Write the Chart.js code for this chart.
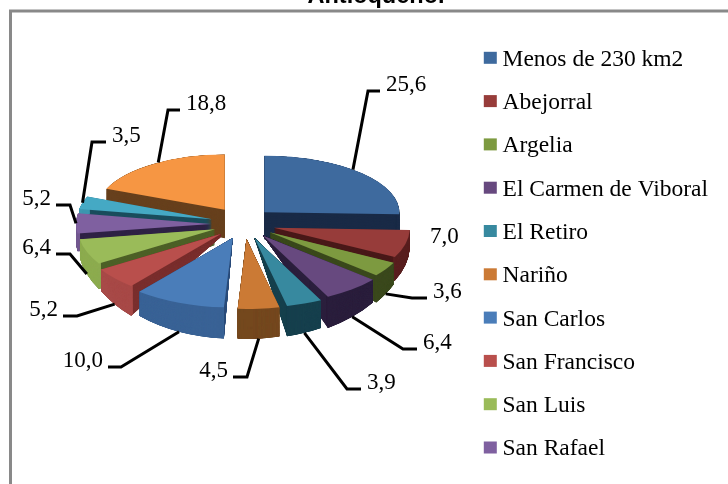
<!DOCTYPE html>
<html>
<head>
<meta charset="utf-8">
<script src="https://cdn.jsdelivr.net/npm/chart.js@4"></script>
<style>
  html, body { margin: 0; padding: 0; background: #fff; overflow: hidden; }
  #wrap { position: absolute; left: 0; top: -18px; width: 728px; height: 502px; }
</style>
</head>
<body>
<div id="wrap"><canvas id="pie"></canvas></div>
<script>
const chartTitle = 'Antioqueño.';
const categories = ['Menos de 230 km2', 'Abejorral', 'Argelia', 'El Carmen de Viboral', 'El Retiro',
  'Nariño', 'San Carlos', 'San Francisco', 'San Luis', 'San Rafael', '', ''];
const shares = [25.6, 7.0, 3.6, 6.4, 3.9, 4.5, 10.0, 5.2, 6.4, 5.2, 3.5, 18.8];

const topColors  = ['#3E6A9E', '#973C3A', '#7D9A40', '#67497F', '#37899F', '#CB7A35',
                    '#4A7DB9', '#B94F4C', '#9ABB59', '#7F60A0', '#45A9C4', '#F69643'];
const cutColors  = ['#1A2B47', '#4A1A1A', '#3C4A1E', '#2B1F3D', '#17404E', '#74481F',
                    '#2E4F7C', '#7A2F2E', '#4E6128', '#2F2245', '#1B4E5E', '#67401D'];
const wallColors = ['#1A2B47', '#5A2020', '#3C4A1E', '#2B1F3D', '#17404E', '#74481F',
                    '#3A6396', '#A84A48', '#8DAC50', '#735890', '#3F98B0', '#67401D'];

// 3d look of the pie, in page pixels
const PAGE_SHIFT = 18;
const CX = 244, CY = 224 + PAGE_SHIFT;
const EXPLODE_X = 31;
const RX = 135;

// where each leader line bends, from the pie centre, and how far it then runs
const leaderBends = [[124, -133, 12], null, [168, 74, 15], [159, 125, 14], [103, 165, 14], [3, 153, -14],
  [-123, 143, -13], [-167, 92, -14], [-174, 30, -14], [-174, -19, -14], [-152, -82, 14], [-76, -114, 12]];
const leaderTilt = { 0: -5, 11: 2.5 };
const plainLabel = { 1: [186, 13] };

function sliceGeometry(arc) {
  const mid = (arc.startAngle + arc.endAngle) / 2 + Math.PI / 2;  // clockwise from the top
  const s = Math.sin(mid), c = Math.cos(mid);
  const back = c > 0.1;
  const depth = back ? 21 - 9 * c : 18 - 12 * c;
  // the bottom face is stretched so the cut walls taper towards the tip like in perspective
  const grow = back ? 18 : (c < 0 ? Math.min(35 * Math.min(1, 1.5 * -c), depth / -c) : 0);
  return {
    mid, s, c, depth, grow,
    ry: 62 - 8 * c,
    rx: c > 0.5 && s < 0 ? 128 : RX + (c < 0 ? 14 * c * c : 0),
    drop: depth + grow * c,
    tipX: CX + EXPLODE_X * s - (c > 0 ? 2 : 0),
    tipY: CY - (back ? 17 : 15) * c
  };
}

function paintArc(ctx, arc, g, t, color, strip) {
  const saved = arc.options, inner = arc.innerRadius;
  const R = arc.outerRadius;
  ctx.save();
  ctx.translate(g.tipX, g.tipY + t * g.drop);
  ctx.scale(g.rx / R, (g.ry + t * g.grow) / R);
  ctx.translate(-arc.x, -arc.y);
  arc.options = Object.assign({}, saved, { backgroundColor: color, borderWidth: 0 });
  if (strip) arc.innerRadius = R - 4;
  arc.draw(ctx);
  arc.options = saved;
  arc.innerRadius = inner;
  ctx.restore();
}

const pie3d = {
  id: 'pie3d',
  beforeDraw(chart) {
    const ctx = chart.ctx;
    ctx.save();
    ctx.strokeStyle = '#898989';
    ctx.lineWidth = 3;
    ctx.strokeRect(10.5, 11 + PAGE_SHIFT, 900, 900);
    ctx.restore();
  },
  beforeDatasetDraw(chart) {
    const ctx = chart.ctx;
    const arcs = chart.getDatasetMeta(0).data.map((arc, i) => ({ arc, i, g: sliceGeometry(arc) }));
    arcs.sort((a, b) => b.g.c - a.g.c);
    arcs.forEach(({ arc, i, g }) => {
      const steps = Math.ceil(g.depth + g.grow) * 2;
      for (let k = steps; k > 0; k--) paintArc(ctx, arc, g, k / steps, cutColors[i], false);
      for (let k = steps; k > 0; k--) paintArc(ctx, arc, g, k / steps, wallColors[i], true);
      paintArc(ctx, arc, g, 0, topColors[i], false);
    });
    return false;
  },
  afterDraw(chart) {
    const ctx = chart.ctx;
    // chart.js ties the text gap to the box width, so the swatches are painted here
    chart.legend.legendHitBoxes.forEach((box, i) => {
      ctx.fillStyle = topColors[i];
      ctx.fillRect(box.left, box.top + 4, 13, 12);
    });
    ctx.save();
    ctx.font = '23px "Liberation Serif"';
    ctx.fillStyle = '#000';
    ctx.strokeStyle = '#000';
    ctx.lineWidth = 3;
    ctx.lineJoin = 'miter';
    ctx.textBaseline = 'middle';
    chart.getDatasetMeta(0).data.forEach((arc, i) => {
      const g = sliceGeometry(arc);
      const text = shares[i].toFixed(1).replace('.', ',');
      const bend = leaderBends[i];
      if (!bend) {
        const p = plainLabel[i];
        ctx.textAlign = 'left';
        ctx.fillText(text, CX + p[0], CY + p[1]);
        return;
      }
      const a = g.mid + (leaderTilt[i] || 0) * Math.PI / 180;
      const sx = g.tipX + g.rx * Math.sin(a);
      const sy = g.tipY - g.ry * Math.cos(a) + (g.c < 0 ? g.depth : 0);
      const bx = CX + bend[0], by = CY + bend[1];
      ctx.beginPath();
      ctx.moveTo(sx, sy);
      ctx.lineTo(bx, by);
      ctx.lineTo(bx + bend[2], by);
      ctx.stroke();
      ctx.textAlign = bend[2] > 0 ? 'left' : 'right';
      ctx.fillText(text, bx + bend[2] + (bend[2] > 0 ? 6 : -5), by - 6);
    });
    ctx.restore();
  }
};

new Chart(document.getElementById('pie'), {
  type: 'pie',
  data: {
    labels: categories,
    datasets: [{ data: shares, backgroundColor: topColors, borderWidth: 0 }]
  },
  plugins: [pie3d],
  options: {
    responsive: true,
    maintainAspectRatio: false,
    animation: false,
    layout: { padding: { left: 34, right: 10 } },
    plugins: {
      tooltip: { enabled: false },
      title: {
        display: true,
        text: chartTitle,
        color: '#000',
        font: { family: '"Liberation Sans"', size: 23.5, weight: 'bold' },
        padding: { top: 0, bottom: 16 }
      },
      legend: {
        position: 'right',
        align: 'start',
        // blank legend title only pushes the list down below the frame line
        title: { display: true, text: ' ', color: '#000', font: { size: 20 }, padding: 11 },
        labels: {
          boxWidth: 7,
          boxHeight: 12,
          padding: 19.8,
          color: '#000',
          font: { family: '"Liberation Serif"', size: 23.5 },
          generateLabels: chart => Chart.overrides.pie.plugins.legend.labels.generateLabels(chart)
            .map(item => Object.assign(item, { fillStyle: 'transparent', strokeStyle: 'transparent' })),
          filter: item => item.index < 10
        }
      }
    }
  }
});
</script>
</body>
</html>
